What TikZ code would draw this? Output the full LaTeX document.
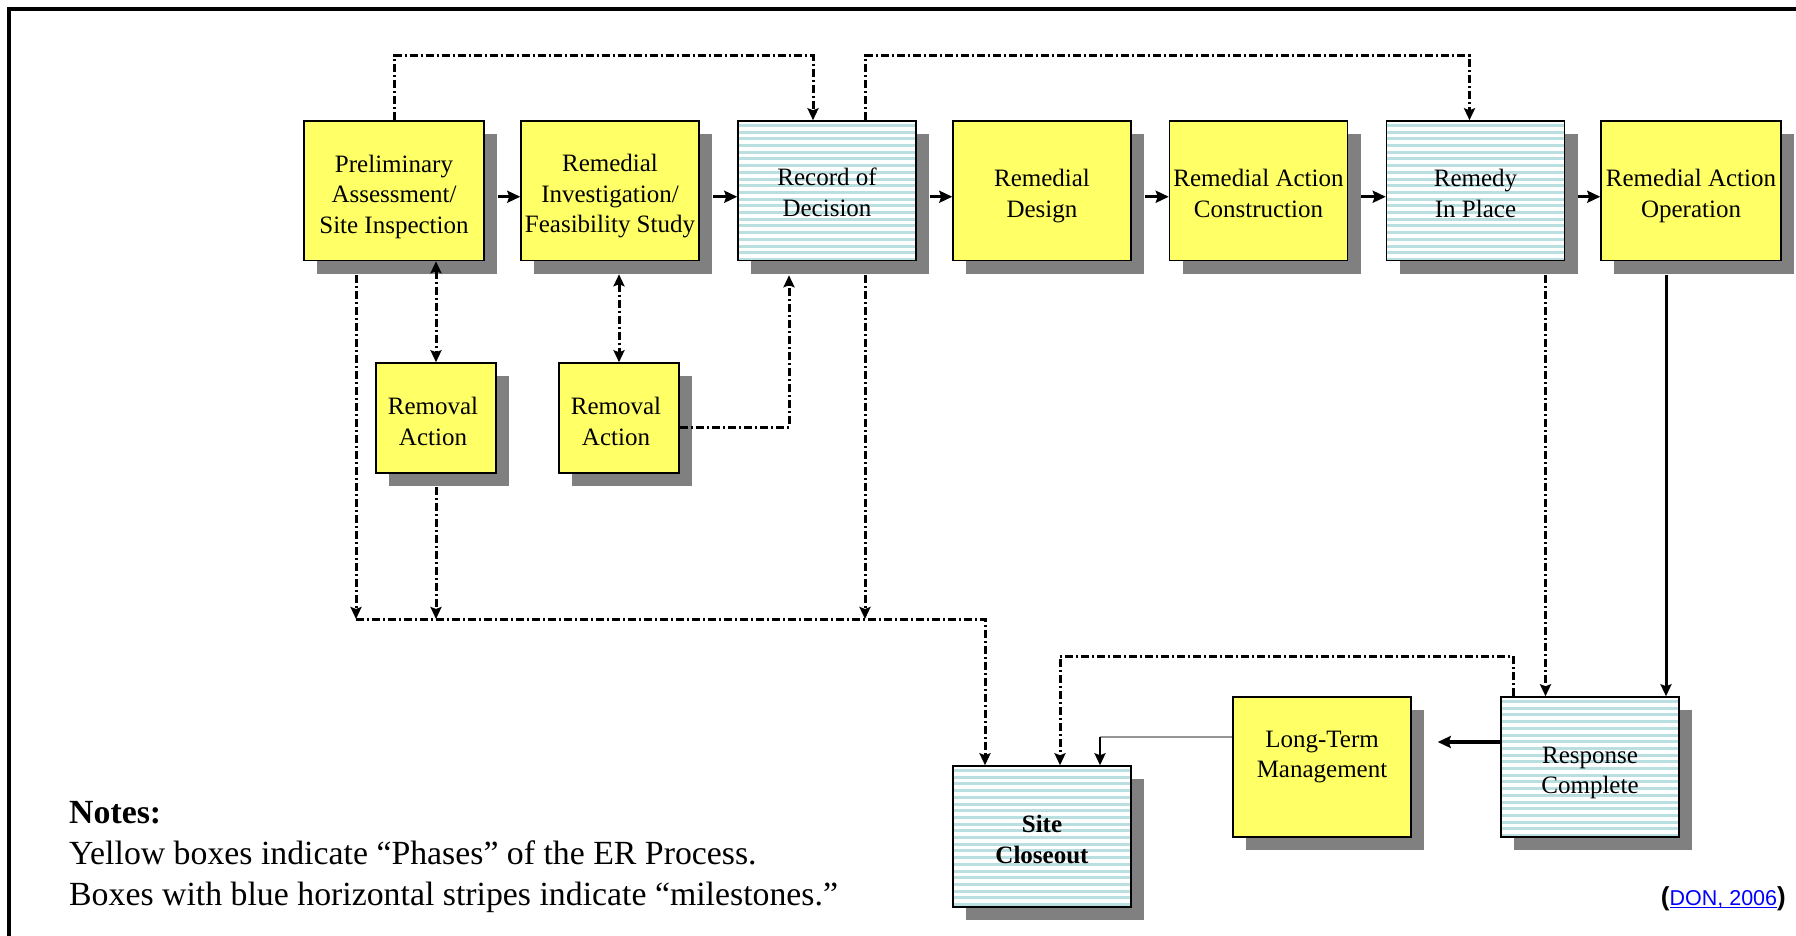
\documentclass[tikz,border=0pt]{standalone}
\usepackage{fontspec}
\setmainfont{Liberation Serif}
\newfontfamily\donfont{Liberation Sans}
\usetikzlibrary{arrows.meta,shadows,calc}
\definecolor{boxyellow}{RGB}{255,255,102}
\definecolor{shadowgray}{RGB}{128,128,128}
\definecolor{stripec}{RGB}{186,223,225}
\definecolor{linkblue}{RGB}{0,0,255}
\definecolor{lgray}{RGB}{150,150,150}
\newcommand\donul[1]{\setbox0\hbox{#1}\rlap{\rule[-3pt]{\wd0}{1.5pt}}\box0}
\tikzset{
  tipA/.tip={Stealth[length=12pt,width=11pt,inset=2pt]},
  tipB/.tip={Stealth[length=13pt,width=12pt,inset=2pt]},
  basebox/.style={draw=black, line width=1.5pt, inner sep=0pt,
    general shadow={fill=shadowgray, draw=none, shadow xshift=13pt, shadow yshift=-13pt}},
  phase/.style={basebox, fill=boxyellow},
  milestone/.style={basebox, fill=white, path picture={
      \foreach \k in {0,...,21}{
        \fill[stripec] ([yshift=-3-6.7*\k]path picture bounding box.north west) rectangle ([yshift=-6-6.7*\k]path picture bounding box.north east);
      }}},
  topbox/.style={minimum width=178pt, minimum height=139.5pt},
  rabox/.style={minimum width=120pt, minimum height=110pt},
  txt/.style={align=center, inner sep=0pt, font=\fontsize{25}{30.5}\selectfont},
  notetxt/.style={anchor=base west, inner sep=0pt, font=\fontsize{33.8}{40}\selectfont},
  dd/.style={line width=3pt, dash pattern=on 8pt off 3pt on 2pt off 3pt},
  sarr/.style={line width=3pt},
}
\begin{document}
\begin{tikzpicture}[x=1pt,y=-1pt]
\useasboundingbox (0,0) rectangle (1796,936);
% frame
\draw[line width=4pt] (9,936) -- (9,9) -- (1796,9);

% top row
\node[phase, topbox, minimum width=180pt] (b1) at (394,190.75) {};
\node[txt] (t1) at (394,196.5) {Preliminary\\Assessment/\\Site Inspection};
\node[phase, topbox] (b2) at (610,190.75) {};
\node[txt] (t2) at (610,196.5) {Remedial\\Investigation/\\Feasibility Study};
\node[milestone, topbox] (b3) at (827,190.75) {};
\node[txt] (t3) at (827,192.5) {Record of\\Decision};
\node[phase, topbox] (b4) at (1042,190.75) {};
\node[txt] (t4) at (1042,196.2) {Remedial\\Design};
\node[phase, topbox] (b5) at (1258.5,190.75) {};
\node[txt] (t5) at (1258.5,193.2) {Remedial Action\\Construction};
\node[milestone, topbox] (b6) at (1475.5,190.75) {};
\node[txt] (t6) at (1475.5,193.2) {Remedy\\In Place};
\node[phase, topbox, minimum width=180pt] (b7) at (1691,190.75) {};
\node[txt] (t7) at (1691,196.2) {Remedial Action\\Operation};

% removal actions
\node[phase, rabox] (ra1) at (436,418) {};
\node[txt] (tr1) at (433,421.5) {Removal\\Action};
\node[phase, rabox] (ra2) at (619,418) {};
\node[txt] (tr2) at (616,421.5) {Removal\\Action};

% bottom row
\node[milestone, minimum width=178pt, minimum height=141pt] (sc) at (1042,836.5) {};
\node[txt, font=\fontsize{25}{30.5}\selectfont\bfseries] (tsc) at (1042,839.5) {Site\\Closeout};
\node[phase, minimum width=178pt, minimum height=140pt] (ltm) at (1322,767) {};
\node[txt] (tltm) at (1322,756.8) {Long-Term\\Management};
\node[milestone, minimum width=178pt, minimum height=140pt] (rc) at (1590,767) {};
\node[txt] (trc) at (1590,772.8) {Response\\Complete};

% top row arrows
\foreach \a/\b in {b1/b2,b2/b3,b3/b4,b4/b5,b5/b6,b6/b7}{
  \draw[sarr,-{tipB}] ([shift={(13,6)}]\a.east) -- ([shift={(0,6)}]\b.west);
}

% upper feedback loops
\draw[dd,-{tipA}] (b1.north) |- (813,56) -- ([xshift=-14pt]b3.north);
\draw[dd,-{tipA}] ([xshift=38pt]b3.north) |- (1469.5,56) -- ([xshift=-6pt]b6.north);

% coordinates
\coordinate (busL) at (356,619);
\coordinate (b1d) at ([shift={(-38,14)}]b1.south);
\coordinate (b2s) at ([yshift=-13pt]b2.south);
\coordinate (b3s) at ([shift={(-38,14)}]b3.south);
\coordinate (b3d) at ([shift={(38,14)}]b3.south);
\coordinate (b6d) at ([shift={(70,14)}]b6.south);
\coordinate (b7d) at ([shift={(-25,14)}]b7.south);
\coordinate (ltmW) at ([yshift=30pt]ltm.west);
\coordinate (scC) at ([xshift=58pt]sc.north);

% lower dash-dot connectors
\draw[dd,-{tipA}] (b1d) -- (busL);
\draw[dd,{tipA}-{tipA}] (ra1.north |- b1.south) -- (ra1.north);
\draw[dd,-{tipA}] ([yshift=-13pt]ra1.south) -- (ra1.south |- busL);
\draw[dd,{tipA}-{tipA}] (b2s -| ra2.north) -- (ra2.north);
\draw[dd,-{tipA}] ([yshift=-9pt]ra2.east) -| (b3s);
\draw[dd,-{tipA}] (b3d) -- (b3d |- busL);
\draw[dd,-{tipA}] (busL) -| ([xshift=-57pt]sc.north);
\draw[dd,-{tipA}] (b6d) -- (b6d |- rc.north);
\draw[sarr,-{tipA}] (b7d) -- (b7d |- rc.north);
\draw[dd,-{tipA}] ([xshift=-77pt]rc.north) -- ++(0,-40) -| ([xshift=18pt]sc.north);
\draw[line width=3.5pt,-{tipB}] ([yshift=25pt]rc.west) -- ([shift={(26,-25)}]ltm.east);
\draw[lgray, line width=2pt] (ltmW) -- (ltmW -| scC);
\draw[line width=2.5pt,-{tipA}] (ltmW -| scC) -- (scC);

% notes
\node[notetxt] (n1) at (69,823) {\bfseries Notes:};
\node[notetxt] (n2) at (69,864) {Yellow boxes indicate “Phases” of the ER Process.};
\node[notetxt] (n3) at (69,905) {Boxes with blue horizontal stripes indicate “milestones.”};

% source
\node[anchor=base east, inner sep=0pt, font=\donfont\fontsize{21.5}{25}\selectfont] (don) at (1786,905)
  {{\fontsize{26}{28}\selectfont\bfseries (}\textcolor{linkblue}{\donul{DON, 2006}}{\fontsize{26}{28}\selectfont\bfseries )}};
\end{tikzpicture}
\end{document}
